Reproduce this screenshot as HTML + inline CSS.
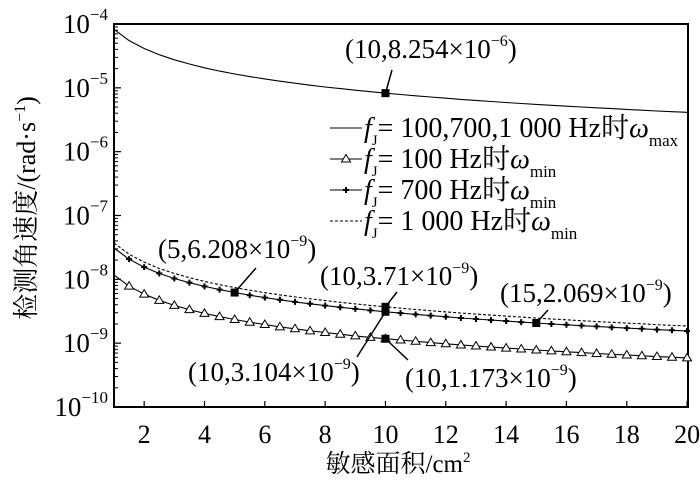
<!DOCTYPE html>
<html><head><meta charset="utf-8"><style>
html,body{margin:0;padding:0;background:#fff;}
svg{display:block;font-family:"Liberation Serif","Noto Serif CJK SC",serif;}
</style></head><body>
<svg id="chart" width="700" height="484" viewBox="0 0 700 484" xmlns="http://www.w3.org/2000/svg"></svg>
<script>
const xs = [1,1.5,2,2.5,3,3.5,4,4.5,5,5.5,6,6.5,7,7.5,8,8.5,9,9.5,10,10.5,11,11.5,12,12.5,13,13.5,14,14.5,15,15.5,16,16.5,17,17.5,18,18.5,19,19.5,20];
const maxVals = [82.5,55.0,41.3,33.0,27.5,23.6,20.6,18.3,16.5,15.0,13.8,12.7,11.8,11.0,10.3,9.71,9.17,8.69,8.25,7.86,7.50,7.18,6.88,6.60,6.35,6.11,5.90,5.69,5.50,5.33,5.16,5.00,4.86,4.72,4.59,4.46,4.34,4.23,4.13]; // ×1e-6
const f100Vals = [11.73,7.82,5.87,4.69,3.91,3.35,2.93,2.61,2.35,2.13,1.96,1.80,1.68,1.56,1.47,1.38,1.30,1.23,1.173,1.12,1.07,1.02,0.978,0.938,0.902,0.869,0.838,0.809,0.782,0.757,0.733,0.711,0.690,0.670,0.652,0.634,0.617,0.602,0.587]; // ×1e-9
const f700Vals = [31.0,20.7,15.5,12.4,10.3,8.87,7.76,6.90,6.21,5.64,5.17,4.78,4.43,4.14,3.88,3.65,3.45,3.27,3.104,2.96,2.82,2.70,2.59,2.48,2.39,2.30,2.22,2.14,2.07,2.00,1.94,1.88,1.83,1.77,1.72,1.68,1.63,1.59,1.55]; // ×1e-9
const f1000Vals = [37.1,24.7,18.6,14.8,12.4,10.6,9.28,8.24,7.42,6.75,6.18,5.71,5.30,4.95,4.64,4.36,4.12,3.91,3.71,3.53,3.37,3.23,3.09,2.97,2.85,2.75,2.65,2.56,2.47,2.39,2.32,2.25,2.18,2.12,2.06,2.01,1.95,1.90,1.86]; // ×1e-9
const xTicks = [2,4,6,8,10,12,14,16,18,20];
const yExps = [-4,-5,-6,-7,-8,-9,-10];
const highlightX = [10,5,10,15,10,10];
const highlightV = [8.254e-6,6.208e-9,3.71e-9,2.069e-9,3.104e-9,1.173e-9];
const highlightLabels = ["(10,8.254×10","(5,6.208×10","(10,3.71×10","(15,2.069×10","(10,3.104×10","(10,1.173×10"];
const highlightExps = ["−6","−9","−9","−9","−9","−9"];

const L=114,R=688,T=24,B=407;
const X=v=>L+(v-1)*(R-L)/19.03;
const Y=v=>T+(-4-Math.log10(v))*(B-T)/6;
const NS="http://www.w3.org/2000/svg";
const svg=document.getElementById('chart');
function mk(tag,attrs,parent){const e=document.createElementNS(NS,tag);for(const k in attrs)e.setAttribute(k,attrs[k]);(parent||svg).appendChild(e);return e;}

yExps.forEach((e,i)=>{
  const y=Y(Math.pow(10,e));
  const t=mk('line',{x1:L,x2:L+7,y1:y,y2:y,stroke:'#000','stroke-width':1.2});
  
  
  if(e>-10){for(let m=2;m<=9;m++){const yy=Y(m*Math.pow(10,e-1));
    const mt=mk('line',{x1:L,x2:L+4,y1:yy,y2:yy,stroke:'#000','stroke-width':1});
    
    }}
  const tx=mk('text',{x:108,y:y+9,'text-anchor':'end','font-size':27});
  
  
  tx.innerHTML='10<tspan dy="-13" font-size="17">−'+(-e)+'</tspan>';
});
xTicks.forEach(v=>{
  const x=X(v);
  const t=mk('line',{x1:x,x2:x,y1:B,y2:B-6,stroke:'#000','stroke-width':1.2});
  
  
  const tx=mk('text',{x:x,y:B+36,'text-anchor':'middle','font-size':26});
  
  
  tx.textContent=v;
});
const frame=mk('rect',{x:L,y:T,width:R-L,height:B-T,fill:'none',stroke:'#000','stroke-width':2});



function series(vals,scale,name,dash){
  const d=vals.map((v,i)=>(i?'L':'M')+X(xs[i]).toFixed(1)+','+Y(v*scale).toFixed(1)).join(' ');
  const p=mk('path',{d:d,fill:'none',stroke:'#000','stroke-width':1.1,'stroke-dasharray':dash||'none'});
  
  
}
series(maxVals,1e-6,'line-omega-max');
series(f1000Vals,1e-9,'line-1000hz-min','3,2');
series(f700Vals,1e-9,'line-700hz-min');
series(f100Vals,1e-9,'line-100hz-min');
xs.forEach((x,i)=>{
  if(i===0)return;
  const px=X(x),py=Y(f100Vals[i]*1e-9);
  const tri=mk('path',{d:`M${px},${py-4.5} L${px+4.5},${py+3} L${px-4.5},${py+3} Z`,fill:'#fff',stroke:'#000','stroke-width':1});
  
  
  const sy=Y(f700Vals[i]*1e-9);
  const st=mk('path',{d:`M${px-3},${sy} L${px+3},${sy} M${px},${sy-3} L${px},${sy+3}`,stroke:'#000','stroke-width':2});
  
  
});

const ann=[
  {tx:345,ty:58,l:[392,70]},
  {tx:158,ty:258,l:[256,268]},
  {tx:320,ty:285,l:[397,292]},
  {tx:500,ty:302,l:[548,310]},
  {tx:188,ty:381,l:[357,357]},
  {tx:405,ty:387,l:[408,360]}
];
highlightX.forEach((hx,i)=>{
  const px=X(hx),py=Y(highlightV[i]);
  const ln=mk('line',{x1:px,y1:py,x2:ann[i].l[0],y2:ann[i].l[1],stroke:'#000','stroke-width':1.5});
  
  
  const sq=mk('rect',{x:px-4,y:py-4,width:8,height:8,fill:'#000'});
  
  
  const t=mk('text',{x:ann[i].tx,y:ann[i].ty,'font-size':27});
  
  
  t.innerHTML=highlightLabels[i]+'<tspan dy="-12" font-size="16">'+highlightExps[i]+'</tspan><tspan dy="12">)</tspan>';
});

const legRows=[
  {y:128,txt:'= 100,700,1 000 Hz时',sub:'max',kind:'max'},
  {y:159,txt:'= 100 Hz时',sub:'min',kind:'100'},
  {y:190,txt:'= 700 Hz时',sub:'min',kind:'700'},
  {y:221,txt:'= 1 000 Hz时',sub:'min',kind:'1000'}
];
const lg=mk('g',{});


legRows.forEach(r=>{
  const g=mk('g',{},lg);
  
  
  mk('line',{x1:330,x2:362,y1:r.y,y2:r.y,stroke:'#000','stroke-width':1,'stroke-dasharray':r.kind==='1000'?'3,2':'none'},g);
  if(r.kind==='100')mk('path',{d:`M346,${r.y-4.5} L350.5,${r.y+3} L341.5,${r.y+3} Z`,fill:'#fff',stroke:'#000'},g);
  if(r.kind==='700')mk('path',{d:`M343,${r.y} L349,${r.y} M346,${r.y-3} L346,${r.y+3}`,stroke:'#000','stroke-width':2},g);
  const t=mk('text',{x:364,y:r.y+9,'font-size':28},g);
  t.innerHTML='<tspan font-style="italic">f</tspan><tspan dy="8" font-size="15">J</tspan><tspan dy="-8">'+r.txt+'</tspan><tspan font-style="italic">ω</tspan><tspan dy="9" font-size="17">'+r.sub+'</tspan>';
});

const xt=mk('text',{x:398,y:472,'text-anchor':'middle','font-size':25});


xt.innerHTML='敏感面积/cm<tspan dy="-10" font-size="15">2</tspan>';
const yt=mk('text',{x:0,y:0,'text-anchor':'middle','font-size':26,transform:'translate(35,208) rotate(-90)'});


yt.innerHTML='检测角速度/(rad·s<tspan dy="-10" font-size="16">−1</tspan><tspan dy="10">)</tspan>';
</script>
</body></html>
